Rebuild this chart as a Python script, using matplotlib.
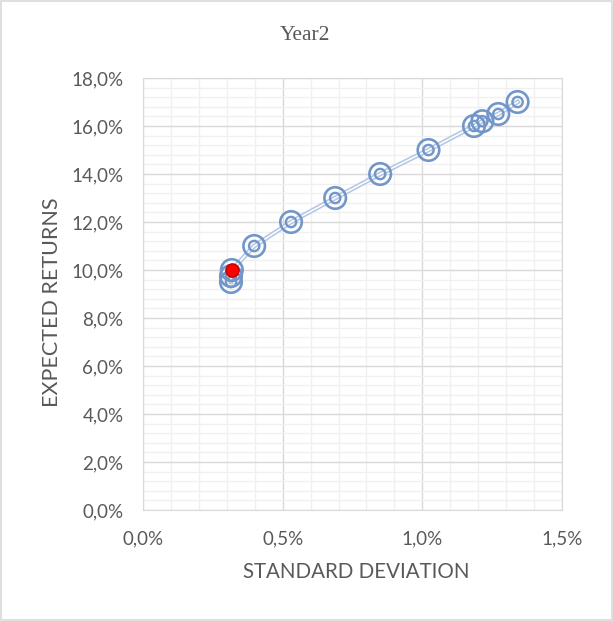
import matplotlib
matplotlib.use("Agg")
import matplotlib.pyplot as plt
from matplotlib.ticker import FuncFormatter, MultipleLocator
from matplotlib.patches import Rectangle

# portfolio frontier, values in %
std_dev = [0.315, 0.315, 0.318, 0.398, 0.53, 0.688, 0.849, 1.022, 1.185, 1.215, 1.272, 1.341]
exp_ret = [9.5, 9.75, 10.0, 11.0, 12.0, 13.0, 14.0, 15.0, 16.0, 16.2, 16.5, 17.0]

# highlighted portfolio
sel_std = [0.318]
sel_ret = [10.0]

blue = "#7296c9"
grey_txt = "#595959"

fig = plt.figure(figsize=(6.13, 6.21), dpi=100)
fig.patches.append(Rectangle((0.002, 0.002), 0.996, 0.996, transform=fig.transFigure,
                             fill=False, edgecolor="#d9d9d9", linewidth=1.2))

ax = fig.add_axes([0.2333, 0.1787, 0.6835, 0.6957])

# double line like excel
ax.plot(std_dev, exp_ret, color="#b4c7e4", linewidth=3.4, zorder=3)
ax.plot(std_dev, exp_ret, color="white", linewidth=1.1, zorder=3)
# double circle markers
ax.scatter(std_dev, exp_ret, s=240, facecolors="none", edgecolors=blue, linewidths=1.9, zorder=4)
ax.scatter(std_dev, exp_ret, s=55, facecolors="none", edgecolors=blue, linewidths=1.7, zorder=4)
ax.scatter(sel_std, sel_ret, s=90, color="#ff0000", edgecolors="#c00000", linewidths=1.0, zorder=5)

ax.set_xlim(0, 1.5)
ax.set_ylim(0, 18)
ax.xaxis.set_major_locator(MultipleLocator(0.5))
ax.xaxis.set_minor_locator(MultipleLocator(0.1))
ax.yaxis.set_major_locator(MultipleLocator(2))
ax.yaxis.set_minor_locator(MultipleLocator(0.4))
ax.xaxis.set_major_formatter(FuncFormatter(lambda v, p: f"{v:.1f}%".replace(".", ",")))
ax.yaxis.set_major_formatter(FuncFormatter(lambda v, p: f"{v:.1f}%".replace(".", ",")))

ax.grid(which="major", color="#d9d9d9", linewidth=1.0, zorder=1)
ax.grid(which="minor", color="#f0f0f0", linewidth=1.0, zorder=0)
ax.set_axisbelow(True)
for s in ax.spines.values():
    s.set_color("#d9d9d9")
ax.tick_params(which="both", length=0, labelsize=13.5, labelcolor=grey_txt)
ax.tick_params(axis="y", pad=14)
ax.tick_params(axis="x", pad=14.5)
for lab in ax.get_xticklabels() + ax.get_yticklabels():
    lab.set_family("Lato")

fig.text(356 / 613, 1 - 572 / 621, "STANDARD DEVIATION", ha="center", va="center",
         fontsize=14.8, color=grey_txt, family="Lato")
fig.text(52 / 613, 1 - 302 / 621, "EXPECTED RETURNS", ha="center", va="center",
         rotation=90, fontsize=15.5, color=grey_txt, family="Lato")
fig.text(0.497, 1 - 35 / 621, "Year2", ha="center", va="center", fontsize=15.5,
         color=grey_txt, family="Liberation Serif")

fig.savefig("out.png", dpi=100)
